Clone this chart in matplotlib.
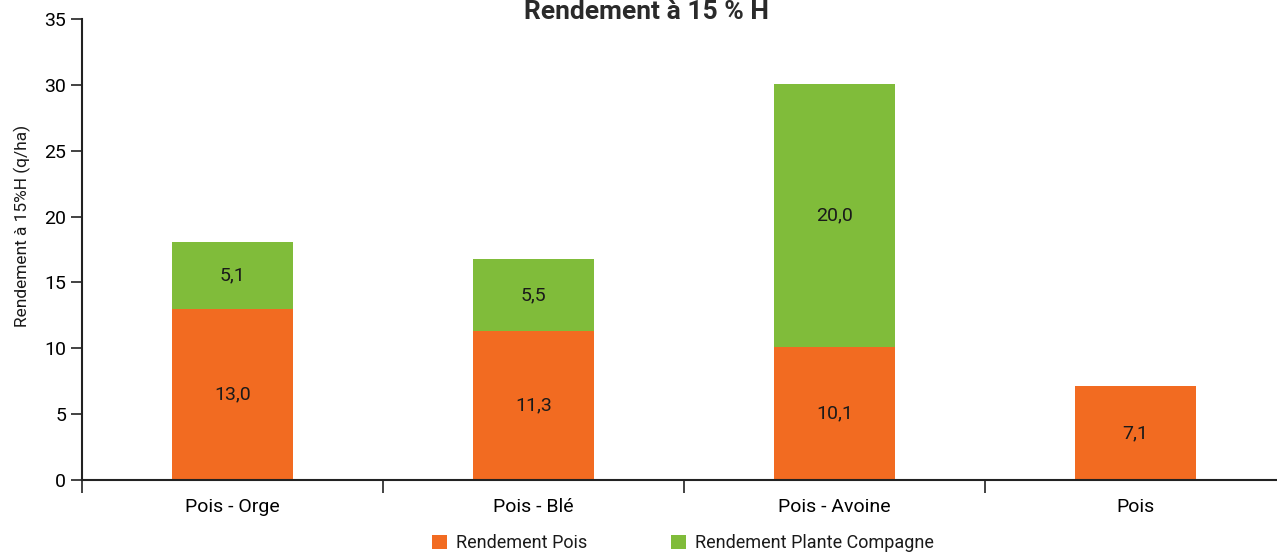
import matplotlib.pyplot as plt
import numpy as np

plt.rcParams['font.family'] = ['Roboto', 'DejaVu Sans']
plt.rcParams['text.color'] = '#1a1a1a'

categories = ['Pois - Orge', 'Pois - Blé', 'Pois - Avoine', 'Pois']
rendement_pois = [13.0, 11.3, 10.1, 7.1]
rendement_compagne = [5.1, 5.5, 20.0, 0.0]
series_names = ['Rendement Pois', 'Rendement Plante Compagne']

orange = '#F26B21'
green = '#80BC3A'

W, H = 1277, 553
fig = plt.figure(figsize=(W / 100, H / 100), dpi=100)
# axes extends slightly beyond the right edge, as in the original
ax = fig.add_axes([82 / W, 1 - 480 / H, 1204 / W, 461 / H])

x = np.arange(len(categories))
ax.bar(x, rendement_pois, width=0.4, color=orange, label=series_names[0])
mask = np.array(rendement_compagne) > 0
ax.bar(x[mask], np.array(rendement_compagne)[mask], width=0.4,
       bottom=np.array(rendement_pois)[mask], color=green, label=series_names[1])

for i in range(len(categories)):
    ax.text(x[i], rendement_pois[i] / 2, f'{rendement_pois[i]:.1f}'.replace('.', ','),
            ha='center', va='center', fontsize=14)
    if rendement_compagne[i] > 0:
        ax.text(x[i], rendement_pois[i] + rendement_compagne[i] / 2,
                f'{rendement_compagne[i]:.1f}'.replace('.', ','),
                ha='center', va='center', fontsize=14)

ax.set_xlim(-0.5, len(categories) - 0.5)
ax.set_ylim(0, 35)
ax.set_yticks(range(0, 36, 5))
ax.set_xticks(x)
ax.set_xticklabels(categories, fontsize=14)
ax.set_xticks(np.arange(-0.5, len(categories), 1), minor=True)
ax.tick_params(axis='x', which='major', length=0, pad=13)
ax.tick_params(axis='x', which='minor', length=9, width=1.2, color='#222222')
ax.tick_params(axis='y', length=8, width=1.2, labelsize=14, color='#222222')
for s in ['top', 'right']:
    ax.spines[s].set_visible(False)
for s in ['left', 'bottom']:
    ax.spines[s].set_linewidth(1.5)
    ax.spines[s].set_color('#222222')

fig.text(22 / W, 1 - 226 / H, 'Rendement à 15%H (q/ha)', rotation=90,
         ha='center', va='center', fontsize=12.5)

fig.text(646 / W, 1 - 12 / H, 'Rendement à 15 % H', ha='center', va='center',
         fontsize=19, fontweight='bold', color='#2a2a2a')

fig.legend(loc='center', bbox_to_anchor=(683 / W, 1 - 543 / H), ncol=2, frameon=False,
           fontsize=13, handlelength=0.85, handleheight=0.85, columnspacing=4.6,
           handletextpad=0.5)

fig.savefig('out.png', dpi=100)
